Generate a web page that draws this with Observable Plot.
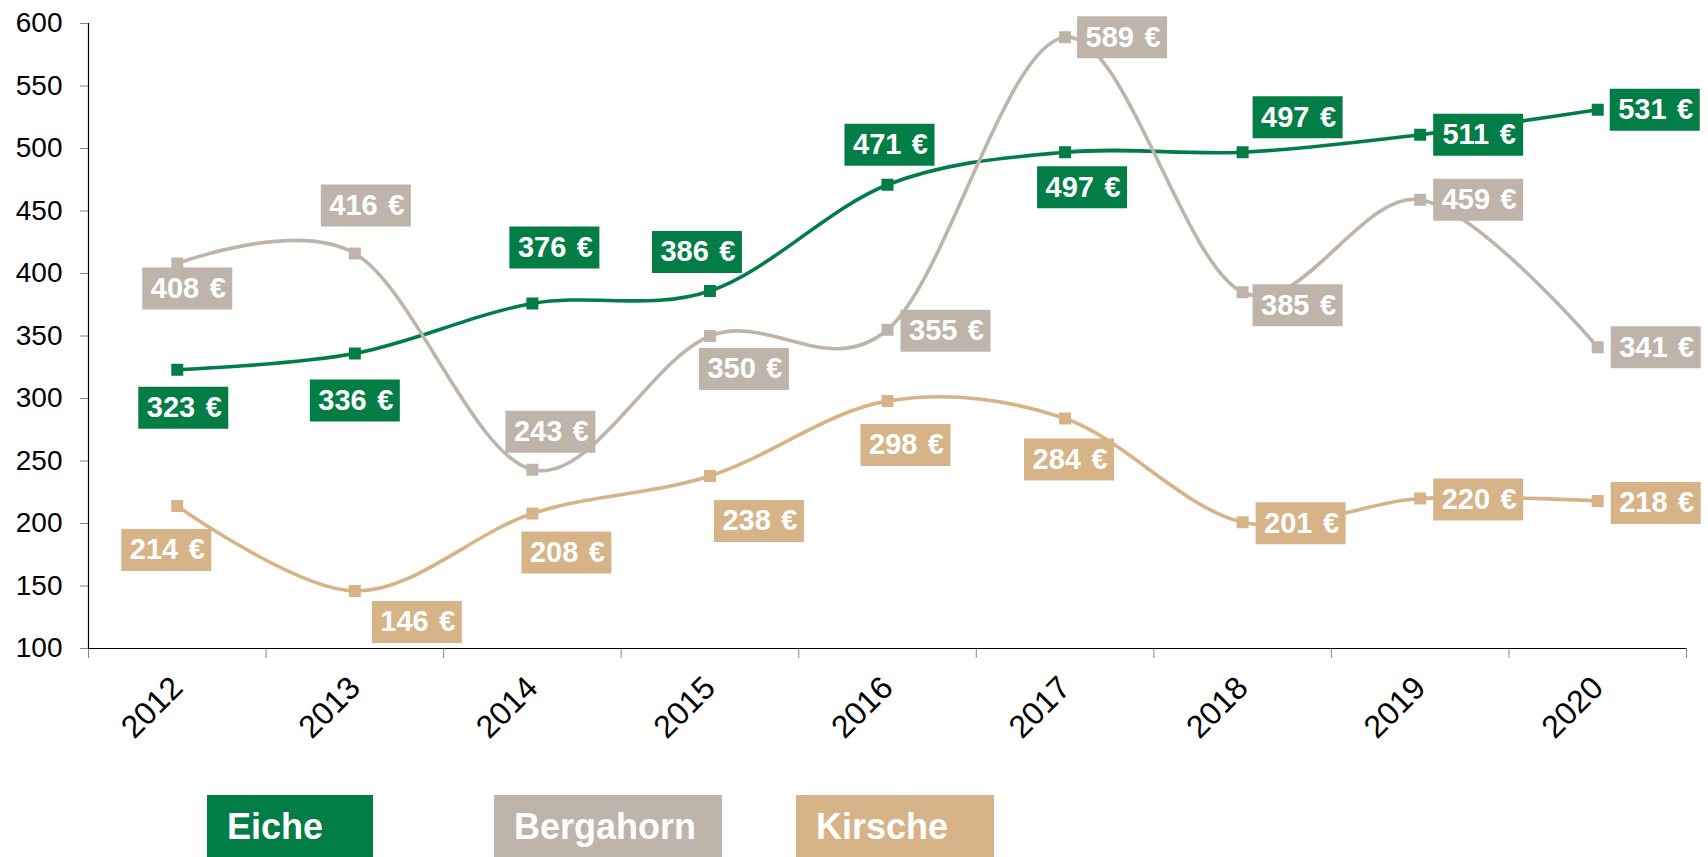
<!DOCTYPE html>
<html>
<head>
<meta charset="utf-8">
<script src="https://cdn.jsdelivr.net/npm/d3@7"></script>
<script src="https://cdn.jsdelivr.net/npm/@observablehq/plot@0.6"></script>
<style>
  html, body { margin: 0; padding: 0; background: #fff; }
  #wrap { position: relative; width: 1708px; height: 857px; overflow: hidden; font-family: "Liberation Sans", Arial, sans-serif; }
  #chart svg { display: block; }
  .leg { position: absolute; top: 795px; height: 64px; line-height: 64px; color: #fff; font-weight: bold; font-size: 36px; padding-left: 20px; box-sizing: border-box; }
</style>
</head>
<body>
<div id="wrap"><div id="chart"></div></div>
<script>
// ---- data ----
const years = [2012, 2013, 2014, 2015, 2016, 2017, 2018, 2019, 2020];
const eiche = [323, 336, 376, 386, 471, 497, 497, 511, 531];
const bergahorn = [408, 416, 243, 350, 355, 589, 385, 459, 341];
const kirsche = [214, 146, 208, 238, 298, 284, 201, 220, 218];
const seriesNames = ["Eiche", "Bergahorn", "Kirsche"];
const yTicks = [100, 150, 200, 250, 300, 350, 400, 450, 500, 550, 600];

// ---- layout: label offsets (px) relative to each point ----
const eicheLabelOffsets = [[6, 38], [0, 47], [22, -56], [-13, -39], [2, -40], [17, 35], [55, -35], [58, 0], [57, 0]];
const bergahornLabelOffsets = [[10, 25], [11, -48], [18, -38], [34, 33], [58, 1], [57, 0], [55, 13], [58, 0], [58, 0]];
const kirscheLabelOffsets = [[-11, 44], [62, 31], [34, 39], [49, 45], [18, 44], [4, 41], [58, 1], [58, 1], [58, 2]];

// ---- styles ----
const colors = ["#037D46", "#BEB4AA", "#D6B487"];
const legendLayout = [{left: 207, width: 166}, {left: 494, width: 228}, {left: 796, width: 198}];

const series = [
  {name: seriesNames[0], values: eiche, color: colors[0], offsets: eicheLabelOffsets},
  {name: seriesNames[1], values: bergahorn, color: colors[1], offsets: bergahornLabelOffsets},
  {name: seriesNames[2], values: kirsche, color: colors[2], offsets: kirscheLabelOffsets}
];

const boundaries = [years[0] - 0.5, ...years.map(y => y + 0.5)];

const boxSymbol = {draw(ctx) { ctx.moveTo(-45, -21); ctx.lineTo(45, -21); ctx.lineTo(45, 21); ctx.lineTo(-45, 21); ctx.closePath(); }};
const squareSymbol = {draw(ctx) { ctx.moveTo(-6, -6); ctx.lineTo(6, -6); ctx.lineTo(6, 6); ctx.lineTo(-6, 6); ctx.closePath(); }};

const marks = [];
// axes
marks.push(Plot.axisY({ticks: yTicks, tickSize: 8, tickPadding: 18, stroke: "#888", fill: "#000", label: null, fontSize: 28}));
marks.push(Plot.axisX({ticks: boundaries, tickSize: 10, tickFormat: () => "", stroke: "#888", label: null}));
marks.push(Plot.axisX({ticks: years, tickSize: 0, tickPadding: 34, tickRotate: -45, tickFormat: d => String(d), fill: "#000", label: null, fontSize: 32}));
marks.push(Plot.ruleY([yTicks[0]], {stroke: "#000", strokeWidth: 1.2}));
marks.push(Plot.ruleX([boundaries[0]], {stroke: "#000", strokeWidth: 1.2}));

// lines
for (const s of series) {
  marks.push(Plot.line(s.values, {x: (d, i) => years[i], y: d => d, stroke: s.color, strokeWidth: 3.6, curve: "cardinal"}));
}
// markers
for (const s of series) {
  marks.push(Plot.dot(s.values, {x: (d, i) => years[i], y: d => d, symbol: squareSymbol, fill: s.color, stroke: "none"}));
}
// labels
for (const s of series) {
  s.values.forEach((v, i) => {
    const [dx, dy] = s.offsets[i];
    marks.push(Plot.dot([v], {x: () => years[i], y: d => d, dx, dy, symbol: boxSymbol, fill: s.color, stroke: "none"}));
    marks.push(Plot.text([v], {x: () => years[i], y: d => d, dx: dx + 1, dy, text: d => `${d}\u00a0\u200a€`, fill: "#fff", fontWeight: "bold", fontSize: 29}));
  });
}

const chart = Plot.plot({
  width: 1708,
  height: 780,
  marginLeft: 88,
  marginRight: 22,
  marginTop: 23,
  marginBottom: 132,
  x: {type: "linear", domain: [boundaries[0], boundaries[boundaries.length - 1]]},
  y: {domain: [yTicks[0], yTicks[yTicks.length - 1]]},
  style: {fontFamily: "'Liberation Sans', Arial, sans-serif", fontSize: "28px", color: "#000", background: "#fff", overflow: "visible"},
  marks
});
document.getElementById("chart").appendChild(chart);

// legend
const wrap = document.getElementById("wrap");
series.forEach((s, i) => {
  const d = document.createElement("div");
  d.className = "leg";
  d.style.left = legendLayout[i].left + "px";
  d.style.width = legendLayout[i].width + "px";
  d.style.background = s.color;
  d.textContent = s.name;
  wrap.appendChild(d);
});
</script>
</body>
</html>
